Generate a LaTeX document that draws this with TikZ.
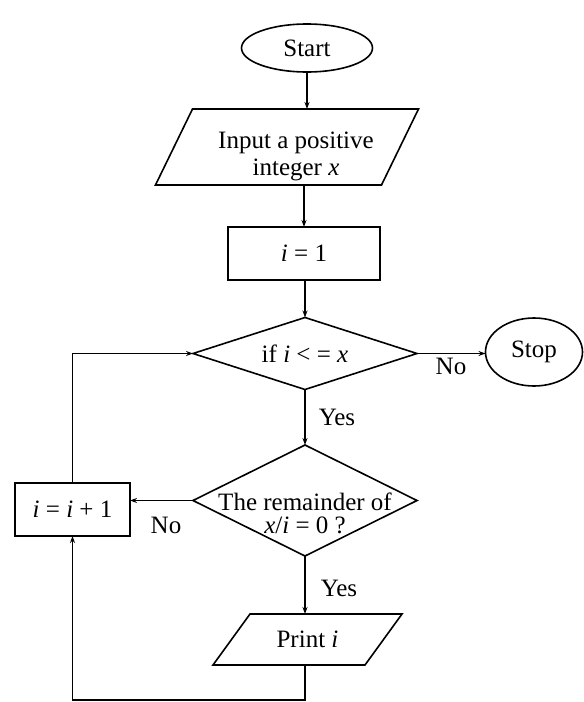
\documentclass[tikz,border=0pt]{standalone}
\usepackage{fontspec}
\setmainfont{Liberation Serif}
\usetikzlibrary{arrows.meta,shapes.geometric,calc}
\begin{document}
\begin{tikzpicture}[x=1pt,y=-1pt,
  every node/.style={font=\fontsize{25}{27}\selectfont, text=black, inner sep=0pt, outer sep=0pt},
  shapeline/.style={draw=black, line width=1.6pt, line join=miter},
  conn/.style={draw=black, line width=1.6pt, -{Stealth[length=7pt,width=5pt]}},
  term/.style={ellipse, draw=black, line width=1.6pt},
  procbox/.style={rectangle, draw=black, line width=1.6pt},
  area/.style={rectangle, draw=none, align=center},
  lbl/.style={font=\fontsize{25}{27}\selectfont}
]
\path[fill=white] (0,0) rectangle (584,702);
\useasboundingbox (0,0) rectangle (584,702);

% Start
\node[term, minimum width=131pt, minimum height=48pt] (start) at (307,48) {Start};

% Input parallelogram
\node[area, minimum width=226pt, minimum height=76pt] (inp) at (287,147) {};
\node[align=center] (inpt) at (296,156) {Input a positive\\integer \textit{x}};
\draw[shapeline] ([xshift=18.5pt]inp.north west) -- ([xshift=18.5pt]inp.north east)
  -- ([xshift=-18.5pt]inp.south east) -- ([xshift=-18.5pt]inp.south west) -- cycle;

% i = 1
\node[procbox, minimum width=152pt, minimum height=53pt] (init) at (304,253.5) {\textit{i} = 1};

% Decision 1
\node[area, minimum width=224pt, minimum height=72pt] (d1) at (305,353.5) {if \textit{i} < = \textit{x}};
\draw[shapeline] (d1.north) -- (d1.east) -- (d1.south) -- (d1.west) -- cycle;

% Stop
\node[term, minimum width=97pt, minimum height=68pt] (stop) at (534,352) {Stop};

% Decision 2
\node[area, minimum width=224pt, minimum height=111pt] (d2) at (305,500.5) {};
\node[align=center, font=\fontsize{25}{23}\selectfont] (d2t) at (305,513) {The remainder of\\\textit{x}/\textit{i} = 0 ?};
\draw[shapeline] (d2.north) -- (d2.east) -- (d2.south) -- (d2.west) -- cycle;

% i = i + 1
\node[procbox, minimum width=115pt, minimum height=53pt] (inc) at (72.5,509.5) {\textit{i} = \textit{i} + 1};

% Print i
\node[area, minimum width=152pt, minimum height=51pt] (prt) at (307.5,639.5) {Print \textit{i}};
\draw[shapeline] ([xshift=18.5pt]prt.north west) -- ([xshift=18.5pt]prt.north east)
  -- ([xshift=-18.5pt]prt.south east) -- ([xshift=-18.5pt]prt.south west) -- cycle;

% Labels
\node[lbl] (no1) at (451,366) {No};
\node[lbl] (yes1) at (337,417) {Yes};
\node[lbl] (no2) at (166,525) {No};
\node[lbl] (yes2) at (339,588) {Yes};

% Connectors
\draw[conn] (start.south) -- (start.south |- inp.north);
\draw[conn] (inp.south -| init.north) -- (init.north);
\draw[conn] (init.south) -- (init.south -| d1.north) -- (d1.north);
\draw[conn] (d1.east) -- (stop.west |- d1.east);
\draw[conn] (d1.south) -- (d2.north);
\draw[conn] (d2.west) -- (inc.east |- d2.west);
\draw[conn] (d2.south) -- (d2.south |- prt.north);
\coordinate (loopb) at (305,700);
\draw[conn] (prt.south -| loopb) -- (loopb) -| (inc.south);
\draw[conn] (inc.north) |- (d1.west);
\end{tikzpicture}
\end{document}
